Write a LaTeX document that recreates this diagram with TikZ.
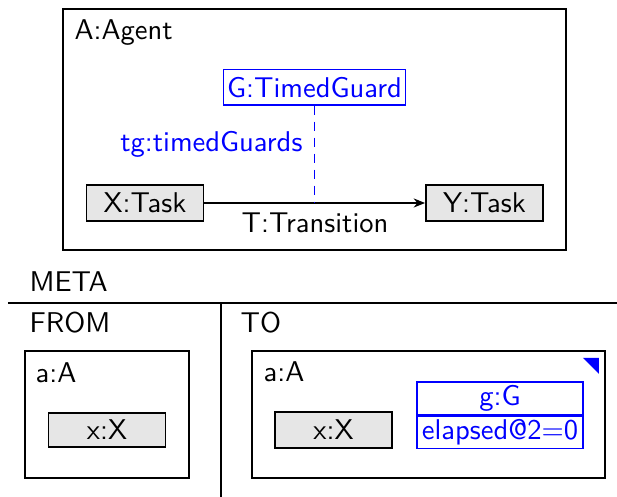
\documentclass[tikz,border=0pt]{standalone}
\usepackage{tikz}
\usetikzlibrary{arrows.meta,positioning}
\definecolor{GuardBlue}{HTML}{0000FF}
\definecolor{TaskGray}{HTML}{E6E6E6}

\begin{document}
\begin{tikzpicture}[
  x=0.35pt,y=-0.35pt,
  every node/.style={font=\sffamily},
  frame/.style={draw,line width=0.7pt,inner sep=0pt},
  task/.style={draw,line width=0.6pt,fill=TaskGray,inner sep=0pt,
               minimum width=41pt,minimum height=12.4pt},
  guard/.style={draw=GuardBlue,text=GuardBlue,line width=0.4pt,inner sep=0pt},
  lbl/.style={inner sep=0pt},
  sep/.style={line width=0.6pt},
  arr/.style={-{Stealth[length=4pt,width=3.2pt]},line width=0.45pt},
  link/.style={dash pattern=on 3.2pt off 2.4pt,GuardBlue,line width=0.6pt}
]
\useasboundingbox (0,0) rectangle (617,497);

% rule
\node[frame,minimum width=176pt,minimum height=84.4pt] (agent) at (314.5,129.5) {};
\node[lbl,anchor=base west] (agentname) at (74,40) {A:Agent};
\node[guard,minimum width=64pt,minimum height=12.3pt] (guard) at (314.5,87.5) {G:TimedGuard};
\node[task] (taskx) at (145,203) {X:Task};
\node[task] (tasky) at (484.5,203) {Y:Task};

\draw[arr] (taskx) -- (tasky);
\node[lbl,anchor=base] (trans) at (315,233) {T:Transition};

\coordinate (tgfoot) at (guard.south |- taskx.east);
\draw[link] (guard) -- (tgfoot);
\node[lbl,anchor=base east,text=GuardBlue] (tglabel) at (303,152) {tg:timedGuards};

% meta part
\node[lbl,anchor=base west] (meta) at (29,292) {META};
\coordinate (hleft) at (8,303);
\coordinate (hright) at (617,303);
\draw[sep] (hleft) -- (hright);
\coordinate (vtop) at (221,303);
\coordinate (vbot) at (221,497);
\draw[sep] (vtop) -- (vbot);

% from side
\node[lbl,anchor=base west] (fromhead) at (29,333) {FROM};
\node[frame,minimum width=57.4pt,minimum height=44.5pt] (fromagent) at (107,414.5) {};
\node[lbl,anchor=base west] (fromname) at (35,383) {a:A};
\node[task,minimum height=12pt] (fromx) at (107,430) {x:X};

% to side
\node[lbl,anchor=base west] (tohead) at (240,333) {TO};
\node[frame,minimum width=123.6pt,minimum height=44.5pt] (toagent) at (428.5,414.5) {};
\node[lbl,anchor=base west] (toname) at (263,382) {a:A};
\node[task,minimum height=12.6pt] (tox) at (333.5,430) {x:X};
\node[guard,minimum width=58.1pt,minimum height=11.5pt] (gname) at (500,398.5) {g:G};
\node[guard,minimum width=58.1pt,minimum height=11.3pt,below=0pt of gname] (gattr) {elapsed@2=0};
\fill[GuardBlue] (583,358) -- (599,358) -- (599,374) -- cycle;
\end{tikzpicture}
\end{document}
